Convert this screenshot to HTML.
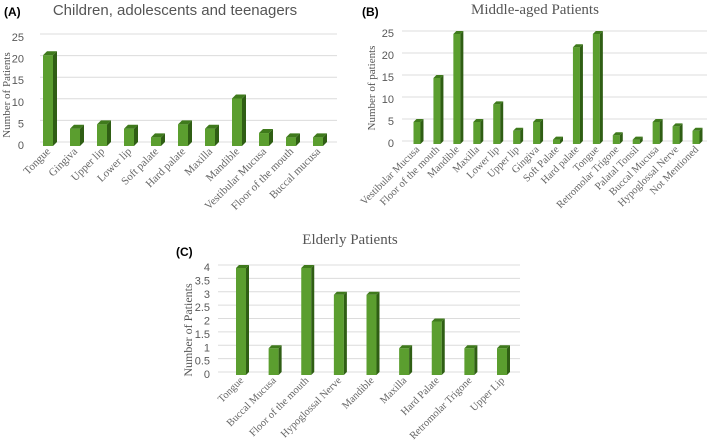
<!DOCTYPE html>
<html><head><meta charset="utf-8"><style>
html,body{margin:0;padding:0;background:#fff;width:709px;height:443px;overflow:hidden}
svg{display:block}
</style></head><body>
<svg id="c" width="709" height="443" xmlns="http://www.w3.org/2000/svg">
<text x="4" y="16" font-family="Liberation Sans, sans-serif" font-weight="bold" font-size="12" fill="#000">(A)</text>
<text x="175" y="15" text-anchor="middle" font-family="Liberation Sans, sans-serif" font-size="15" fill="#555">Children, adolescents and teenagers</text>
<text x="362" y="16" font-family="Liberation Sans, sans-serif" font-weight="bold" font-size="12" fill="#000">(B)</text>
<text x="535" y="14" text-anchor="middle" font-family="Liberation Serif, serif" font-size="15" fill="#555">Middle-aged Patients</text>
<text x="176" y="256" font-family="Liberation Sans, sans-serif" font-weight="bold" font-size="12" fill="#000">(C)</text>
<text x="350" y="244" text-anchor="middle" font-family="Liberation Serif, serif" font-size="15" fill="#555">Elderly Patients</text>
</svg>
<script>
const catsA=["Tongue","Gingiva","Upper lip","Lower lip","Soft palate","Hard palate","Maxilla","Mandible","Vestibular Mucusa","Floor of the mouth","Buccal mucusa"];
const valsA=[21,4,5,4,2,5,4,11,3,2,2];
const ticksA=[0,5,10,15,20,25];
const catsB=["Vestibular Mucusa","Floor of the mouth","Mandible","Maxilla","Lower lip","Upper lip","Gingiva","Soft Palate","Hard palate","Tongue","Retromolar Trigone","Palatal Tonsil","Buccal Mucusa","Hypoglossal Nerve","Not Mentioned"];
const valsB=[5,15,25,5,9,3,5,1,22,25,2,1,5,4,3];
const ticksB=[0,5,10,15,20,25];
const catsC=["Tongue","Buccal Mucusa","Floor of the mouth","Hypoglossal Nerve","Mandible","Maxilla","Hard Palate","Retromolar Trigone","Upper Lip"];
const valsC=[4,1,4,3,3,1,2,1,1];
const ticksC=[0,0.5,1,1.5,2,2.5,3,3.5,4];

const svg=document.getElementById('c');
const NS="http://www.w3.org/2000/svg";
function mk(tag,attrs){const e=document.createElementNS(NS,tag);for(const k in attrs)e.setAttribute(k,attrs[k]);svg.appendChild(e);return e;}

function chart(id,cats,vals,ticks,o){
  const max=ticks[ticks.length-1];
  const y=v=>o.base-(v/max)*(o.base-o.top);
  const x=i=>o.x0+i*(o.x1-o.x0)/(cats.length-1);
  const d=o.d;
  ticks.forEach(t=>{
    const g=mk('line',{x1:o.gx0,x2:o.gx1,y1:y(t)-d,y2:y(t)-d,stroke:'#dcdcdc','stroke-width':1});
    
    
    const tl=mk('text',{x:o.tx,y:y(t)+3,'text-anchor':'end','font-family':'Liberation Sans, sans-serif','font-size':o.tfs,fill:'#595959'});
    tl.textContent=String(t);
    
    
  });
  vals.forEach((v,i)=>{
    const cx=x(i),w=o.w,l=cx-w/2,t=y(v),b=o.base;
    const f=mk('rect',{x:l,y:t,width:w,height:b-t,fill:'#5b9e2f'});
    
    
    const s=mk('polygon',{points:`${l+w},${t} ${l+w+d},${t-d} ${l+w+d},${b-d} ${l+w},${b}`,fill:'#2f5e14'});
    
    
    const tp=mk('polygon',{points:`${l},${t} ${l+d},${t-d} ${l+w+d},${t-d} ${l+w},${t}`,fill:'#3f7a1c'});
    
    
    const lx=cx+3,ly=b+6;
    const lb=mk('text',{x:lx,y:ly,'text-anchor':'end','font-family':'Liberation Serif, serif','font-size':o.cfs,fill:'#666',transform:`rotate(-45 ${lx} ${ly})`});
    lb.textContent=cats[i];
    
    
  });
  const yt=mk('text',{x:o.ytx,y:o.yty,'text-anchor':'middle','font-family':'Liberation Serif, serif','font-size':o.yfs,fill:'#555',transform:`rotate(-90 ${o.ytx} ${o.yty})`});
  yt.textContent=o.ytitle;
  
  
}
chart('chart-a',catsA,valsA,ticksA,{base:146,top:38,x0:48,x1:318,w:10,d:4,gx0:40,gx1:337,tx:24,tfs:11,cfs:11,ytx:10,yty:95,yfs:11,ytitle:'Number of Patients'});
chart('chart-b',catsB,valsB,ticksB,{base:144,top:34,x0:417,x1:696,w:7,d:3,gx0:402,gx1:707,tx:394,tfs:11,cfs:10.5,ytx:375,yty:88,yfs:11,ytitle:'Number of patients'});
chart('chart-c',catsC,valsC,ticksC,{base:375,top:268,x0:241,x1:502,w:10,d:3,gx0:218,gx1:520,tx:210,tfs:11,cfs:10.5,ytx:192,yty:330,yfs:12,ytitle:'Number of Patients'});
</script>
</body></html>
